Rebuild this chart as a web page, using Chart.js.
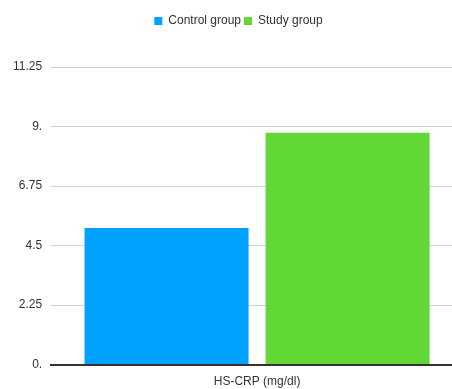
<!DOCTYPE html>
<html>
<head>
<meta charset="utf-8">
<script src="https://cdn.jsdelivr.net/npm/chart.js@4"></script>
<style>
  html, body { margin: 0; padding: 0; background: #fff; }
  #wrap { width: 452px; height: 389px; overflow: hidden; position: relative; }
  canvas { display: block; }
</style>
</head>
<body>
<div id="wrap"><canvas id="c" width="463" height="399"></canvas></div>
<script>
// Mean HS-CRP by group
const categories = ['HS-CRP (mg/dl)'];
const seriesNames = ['Control group', 'Study group'];
const controlValues = [5.16];
const studyValues = [8.76];
const yTickLabels = ['0.', '2.25', '4.5', '6.75', '9.', '11.25'];

const FONT = "'Liberation Sans', Arial, Helvetica, sans-serif";
const TEXT = '#333333';

// extra room under the legend, and a small horizontal nudge of the legend row
const legendTweaks = {
  id: 'legendTweaks',
  afterInit(chart) {
    const lg = chart.legend;
    if (!lg) return;
    const fit = lg.fit;
    lg.fit = function () {
      fit.call(this);
      this.height += 30;
    };
  },
  afterLayout(chart) {
    const lg = chart.legend;
    if (!lg) return;
    const d = 5;
    lg.left += d; lg.right += d;
  }
};

new Chart(document.getElementById('c'), {
  type: 'bar',
  data: {
    labels: categories,
    datasets: [
      { label: seriesNames[0], data: controlValues, backgroundColor: '#00A2FF' },
      { label: seriesNames[1], data: studyValues, backgroundColor: '#61D836' }
    ]
  },
  options: {
    responsive: false,
    animation: false,
    devicePixelRatio: 1,
    layout: { padding: { left: 4, top: 12, right: 0, bottom: 0 } },
    datasets: { bar: { categoryPercentage: 0.879, barPercentage: 0.906 } },
    plugins: {
      tooltip: { enabled: false },
      legend: {
        position: 'top',
        labels: {
          boxWidth: 8, boxHeight: 8, padding: 3,
          color: TEXT, font: { family: FONT, size: 12 }
        }
      }
    },
    scales: {
      x: {
        grid: { display: false, drawTicks: false },
        border: { display: true, color: '#333333', width: 2 },
        ticks: { color: TEXT, padding: 10, font: { family: FONT, size: 12 } }
      },
      y: {
        min: 0, max: 11.25,
        grid: { color: '#d2d2d2', lineWidth: 1, drawTicks: false },
        border: { display: false },
        ticks: {
          stepSize: 2.25, padding: 9, color: TEXT,
          font: { family: FONT, size: 12 },
          callback: (v, i) => yTickLabels[i]
        }
      }
    }
  },
  plugins: [legendTweaks]
});
</script>
</body>
</html>
